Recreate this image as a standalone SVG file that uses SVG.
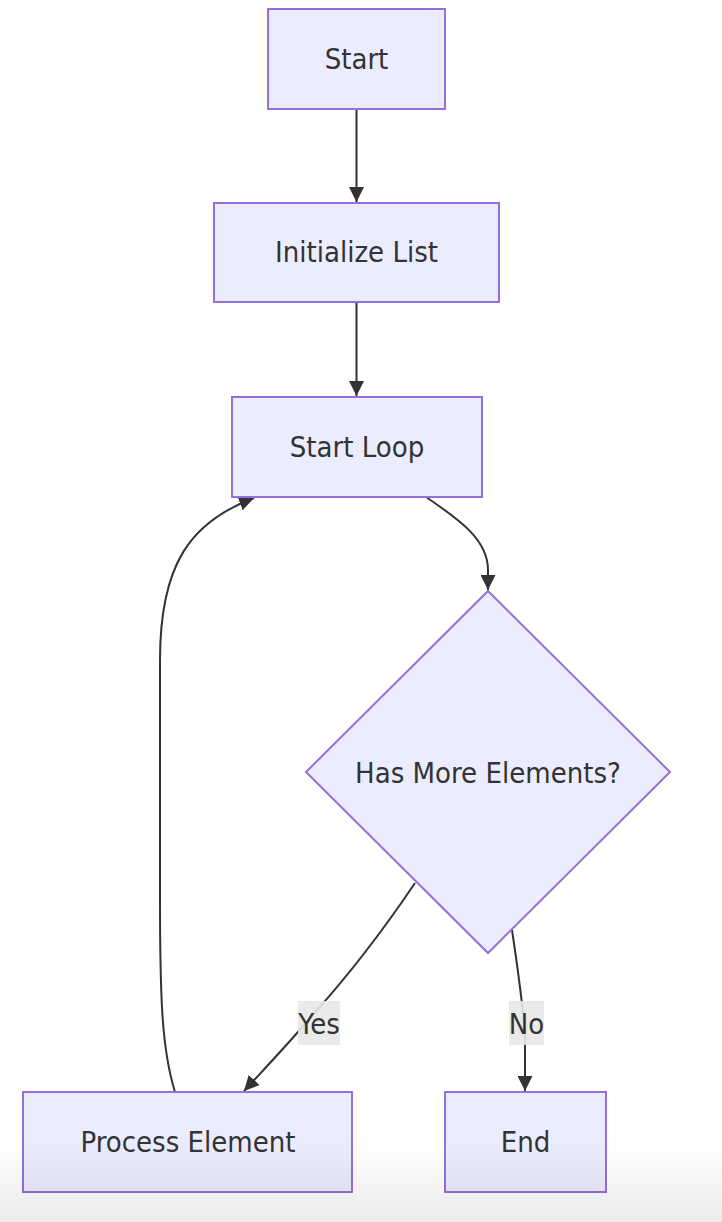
<svg xmlns="http://www.w3.org/2000/svg" width="722" height="1222" viewBox="0 0 722 1222">
<style>
.node rect,.node polygon{fill:#ECECFF;stroke:#9370DB;stroke-width:2}
.node text,.lbl text{font-family:"DejaVu Sans Condensed","DejaVu Sans",sans-serif;font-size:29px;fill:#333;text-anchor:middle;dominant-baseline:central}
.edge{fill:none;stroke:#333;stroke-width:2}
.lbl rect{fill:#e8e8e8;opacity:0.9}
</style>
<defs>
<marker id="arrow" viewBox="0 0 10 10" refX="10" refY="5" markerWidth="15" markerHeight="15" markerUnits="userSpaceOnUse" orient="auto">
<path d="M0,0 L10,5 L0,10 z" fill="#333"/>
</marker>
<linearGradient id="shade" x1="0" y1="0" x2="0" y2="1">
<stop offset="0" stop-color="#000" stop-opacity="0"/>
<stop offset="1" stop-color="#000" stop-opacity="0.08"/>
</linearGradient>
</defs>
<rect width="722" height="1222" fill="#fff"/>
<g id="edges">
<path class="edge" d="M356.5,109 L356.5,202" marker-end="url(#arrow)"/>
<path class="edge" d="M356.5,302 L356.5,396" marker-end="url(#arrow)"/>
<path class="edge" d="M426,497 C460,520 488,540 488,570 L488,590" marker-end="url(#arrow)"/>
<path class="edge" d="M415,883 C380,935 340,985 310,1018 C290,1042 268,1065 244,1091" marker-end="url(#arrow)"/>
<path class="edge" d="M512,930 C518,970 524,1010 525,1040 L525,1091" marker-end="url(#arrow)"/>
<path class="edge" d="M175,1092 C162,1050 160,1000 160,900 L160,660 C160,565 190,522 254,498" marker-end="url(#arrow)"/>
</g>
<g id="label-yes" class="lbl"><rect x="298" y="1001" width="42" height="44"/><text x="319" y="1024">Yes</text></g>
<g id="label-no" class="lbl"><rect x="509" y="1001" width="35" height="44"/><text x="526.5" y="1024">No</text></g>
<g id="start" class="node"><rect x="268" y="9" width="177" height="100"/><text x="356.5" y="59">Start</text></g>
<g id="init" class="node"><rect x="214" y="203" width="285" height="99"/><text x="356.5" y="252">Initialize List</text></g>
<g id="loop" class="node"><rect x="232" y="397" width="250" height="100"/><text x="357" y="447">Start Loop</text></g>
<g id="decision" class="node"><polygon points="488,591 670,772 488,953 306,772"/><text x="488" y="773">Has More Elements?</text></g>
<g id="process" class="node"><rect x="23" y="1092" width="329" height="100"/><text x="188" y="1142">Process Element</text></g>
<g id="end" class="node"><rect x="445" y="1092" width="161" height="100"/><text x="525.5" y="1142">End</text></g>
<rect x="0" y="1140" width="722" height="82" fill="url(#shade)"/>
</svg>
